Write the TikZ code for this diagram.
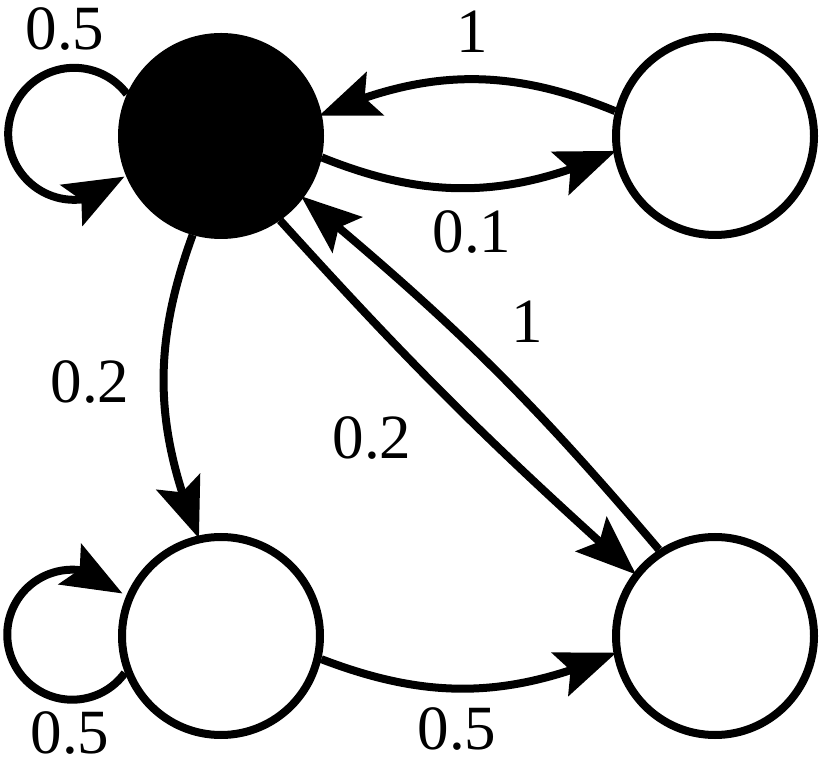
\documentclass[tikz,border=0pt]{standalone}
\usepackage{fontspec}
\setmainfont{Liberation Serif}
\usetikzlibrary{arrows.meta,bending}
\begin{document}
\begin{tikzpicture}[x=1pt,y=1pt,
  state/.style={circle,draw=black,line width=8pt,minimum size=198pt,inner sep=0pt},
  filled/.style={state,fill=black},
  hollow/.style={state,fill=white},
  trans/.style={line width=8pt,shorten >=-3pt,-{Stealth[length=60pt,width=46pt,inset=11pt]}},
  lbl/.style={inner sep=0pt,font=\fontsize{63}{63}\selectfont}]
\useasboundingbox (0,0) rectangle (832,765);
\node[filled] (A) at (221,629) {};
\node[hollow] (B) at (715,629) {};
\node[hollow] (C) at (221,129) {};
\node[hollow] (D) at (715,129) {};
% self loops
\draw[trans] (A.156) arc[start angle=37,end angle=317,radius=66];
\draw[trans] (C.201) arc[start angle=-36,end angle=-318,radius=65];
% transitions
\draw[trans] (A.-12) to[bend right=23] (B.189);
\draw[trans] (B.166) to[bend right=23] (A.12);
\draw[trans] (A.254) to[bend right=21] (C.103);
\draw[trans] (A.-55) to[bend right=3] (D.142);
\draw[trans] (D.123) to[bend right=5] (A.-37);
\draw[trans] (C.-13) to[bend right=22] (D.190);
% labels
\node[lbl] (lAA) at (65,736) {0.5};
\node[lbl] (lBA) at (472,733) {1};
\node[lbl] (lAB) at (472,533) {0.1};
\node[lbl] (lAC) at (90,383) {0.2};
\node[lbl] (lAD) at (372,327) {0.2};
\node[lbl] (lDA) at (527,443) {1};
\node[lbl] (lCC) at (70,32) {0.5};
\node[lbl] (lCD) at (457,36) {0.5};
\end{tikzpicture}
\end{document}
